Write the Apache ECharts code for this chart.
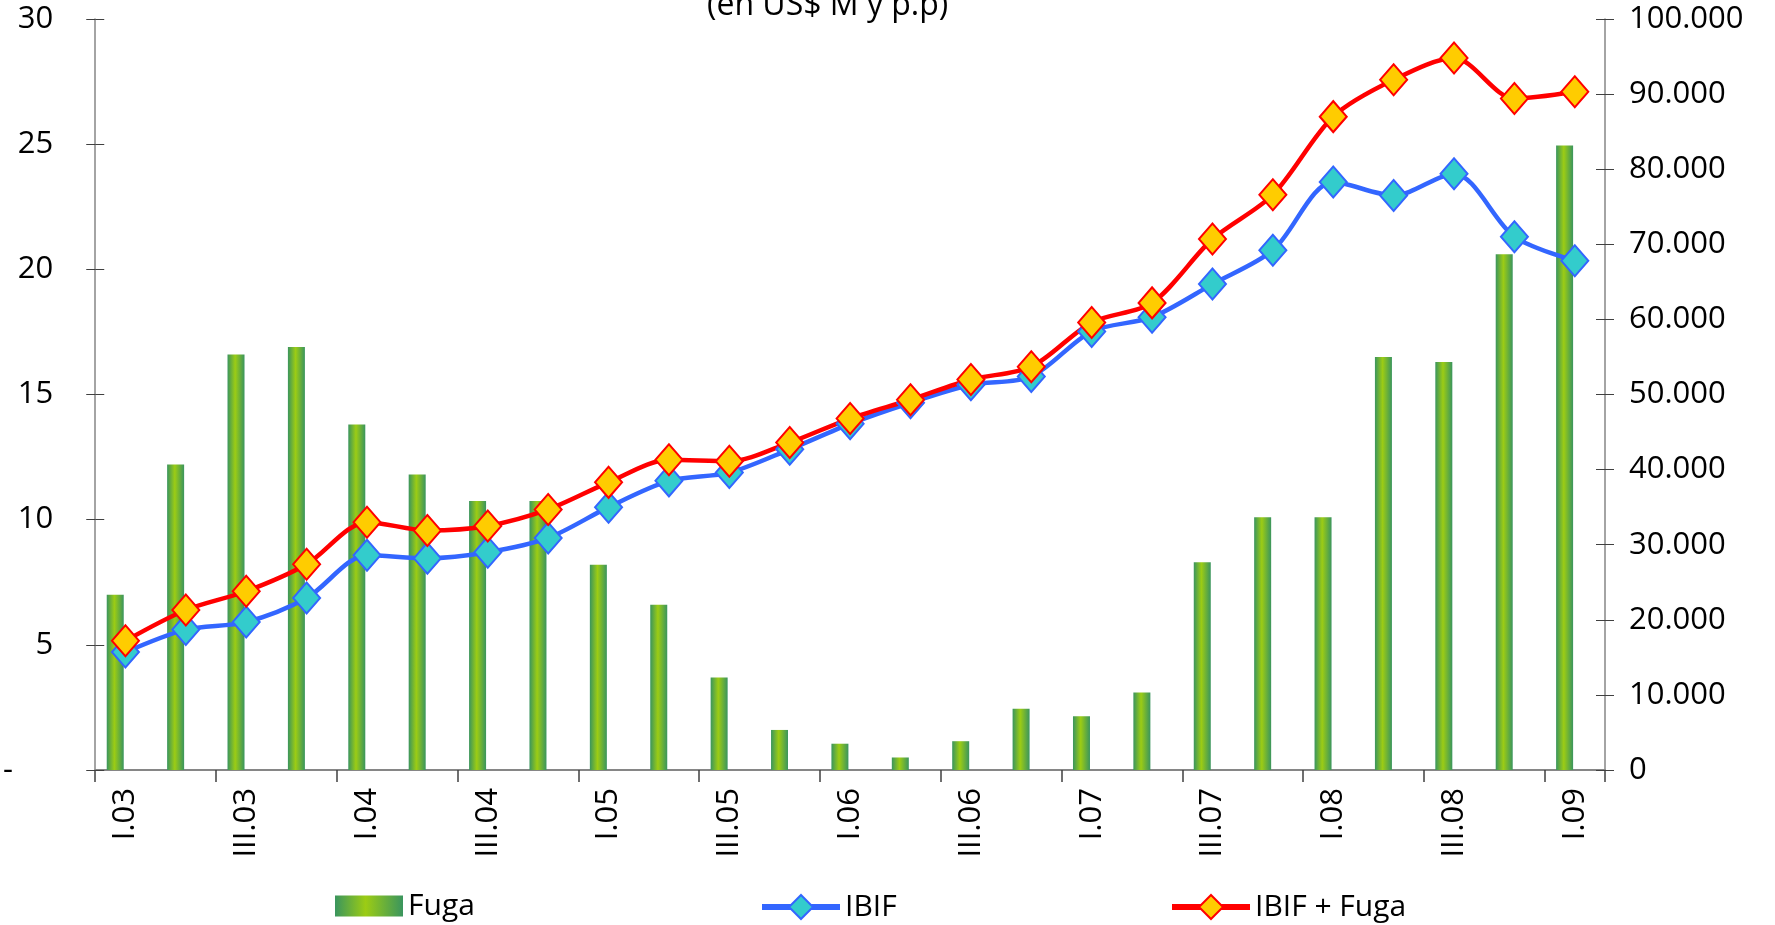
<!DOCTYPE html>
<html>
<head>
<meta charset="utf-8">
<script src="https://cdn.jsdelivr.net/npm/echarts@6/dist/echarts.min.js"></script>
<style>
  html, body { margin: 0; padding: 0; background: #fff; }
  #chart { width: 1775px; height: 925px; }
</style>
</head>
<body>
<div id="chart"></div>
<script>
// trimestres
let quarters = ['I.03', 'II.03', 'III.03', 'IV.03', 'I.04', 'II.04', 'III.04', 'IV.04',
  'I.05', 'II.05', 'III.05', 'IV.05', 'I.06', 'II.06', 'III.06', 'IV.06',
  'I.07', 'II.07', 'III.07', 'IV.07', 'I.08', 'II.08', 'III.08', 'IV.08', 'I.09']
// Fuga (eje izquierdo, p.p)
let fuga = [7.0, 12.2, 16.6, 16.9, 13.8, 11.8, 10.75, 10.75, 8.2, 6.6, 3.7, 1.6, 1.05,
  0.5, 1.15, 2.45, 2.15, 3.1, 8.3, 10.1, 10.1, 16.5, 16.3, 20.6, 24.95]
// IBIF (eje derecho, US$ M)
let ibif = [15700, 18700, 19700, 22900, 28600, 28200, 29000, 30900, 35000, 38500, 39600,
  42700, 46100, 48900, 51300, 52400, 58400, 60300, 64700, 69200, 78300, 76500, 79400,
  71000, 67800]
// IBIF + Fuga
let ibifFuga = [17200, 21300, 23800, 27400, 33000, 31900, 32500, 34700, 38300, 41300, 41100,
  43600, 46800, 49300, 52000, 53700, 59600, 62200, 70700, 76600, 87000, 91900, 94800,
  89400, 90300]

let font = "'Open Sans', sans-serif"
let barGrad = new echarts.graphic.LinearGradient(0, 0, 1, 0, [
  { offset: 0, color: '#3a955e' },
  { offset: 0.45, color: '#9ccc14' },
  { offset: 1, color: '#3a955e' }
])

let chart = echarts.init(document.getElementById('chart'))
chart.setOption({
  animation: false,
  textStyle: { fontFamily: font },
  title: {
    text: '(en US$ M y p.p)',
    left: 702,
    top: -15,
    textStyle: { fontFamily: font, fontSize: 32, fontWeight: 'normal', color: '#000' }
  },
  legend: [
    {
      data: [{ name: 'Fuga', icon: 'rect' }],
      left: 330, top: 886, itemWidth: 68, itemHeight: 21, itemGap: 12,
      textStyle: { fontFamily: font, fontSize: 30, color: '#000' }
    },
    {
      data: ['IBIF'],
      left: 754, top: 887, itemWidth: 78, itemHeight: 30, itemGap: 6,
      lineStyle: { width: 6 },
      textStyle: { fontFamily: font, fontSize: 30, color: '#000' }
    },
    {
      data: ['IBIF + Fuga'],
      left: 1164, top: 887, itemWidth: 78, itemHeight: 30, itemGap: 6,
      lineStyle: { width: 6 },
      textStyle: { fontFamily: font, fontSize: 30, color: '#000' }
    }
  ],
  grid: { left: 91, right: 170, top: 19, bottom: 155 },
  xAxis: {
    type: 'category',
    data: quarters,
    boundaryGap: true,
    axisLine: { lineStyle: { color: '#868686', width: 2 } },
    axisTick: { show: true, interval: 1, length: 12, lineStyle: { color: '#404040', width: 1.5 } },
    axisLabel: { interval: 1, rotate: 90, fontSize: 31, color: '#000', margin: 18, fontFamily: font }
  },
  yAxis: [
    {
      type: 'value',
      min: 0, max: 30, interval: 5,
      splitLine: { show: false },
      axisLine: { show: true, lineStyle: { color: '#868686', width: 1.5 } },
      axisTick: { show: true, length: 9, lineStyle: { color: '#404040' } },
      axisLabel: {
        fontSize: 31, color: '#000', margin: 42, fontFamily: font,
        formatter: function (v) { return v === 0 ? '-     ' : v }
      }
    },
    {
      type: 'value',
      min: 0, max: 100000, interval: 10000,
      splitLine: { show: false },
      axisLine: { show: true, lineStyle: { color: '#868686', width: 1.5 } },
      axisTick: { show: true, length: 9, lineStyle: { color: '#404040' } },
      axisLabel: {
        fontSize: 31, color: '#000', margin: 24, fontFamily: font,
        formatter: function (v) { return v === 0 ? '0' : (v / 1000) + '.000' }
      }
    },
    {
      // ticks hacia adentro (cruce)
      type: 'value', position: 'left',
      min: 0, max: 30, interval: 5,
      splitLine: { show: false }, axisLabel: { show: false },
      axisLine: { show: false },
      axisTick: { show: true, inside: true, length: 9, lineStyle: { color: '#404040' } }
    },
    {
      type: 'value', position: 'right',
      min: 0, max: 100000, interval: 10000,
      splitLine: { show: false }, axisLabel: { show: false },
      axisLine: { show: false },
      axisTick: { show: true, inside: true, length: 9, lineStyle: { color: '#404040' } }
    }
  ],
  series: [
    {
      name: 'Fuga',
      type: 'bar',
      yAxisIndex: 0,
      data: fuga,
      barWidth: 17,
      barGap: '20%',
      itemStyle: { color: barGrad }
    },
    {
      name: 'vacio',
      type: 'bar',
      yAxisIndex: 0,
      data: [],
      barWidth: 17
    },
    {
      name: 'IBIF',
      type: 'line',
      yAxisIndex: 1,
      data: ibif,
      smooth: 0.3,
      symbol: 'diamond',
      symbolSize: [27, 31],
      lineStyle: { color: '#3366ff', width: 4.5 },
      itemStyle: { color: '#33cccc', borderColor: '#3366ff', borderWidth: 2 }
    },
    {
      name: 'IBIF + Fuga',
      type: 'line',
      yAxisIndex: 1,
      data: ibifFuga,
      smooth: 0.3,
      symbol: 'diamond',
      symbolSize: [27, 31],
      lineStyle: { color: '#ff0000', width: 4.5 },
      itemStyle: { color: '#ffcc00', borderColor: '#ff0000', borderWidth: 2 }
    }
  ]
})
</script>
</body>
</html>
